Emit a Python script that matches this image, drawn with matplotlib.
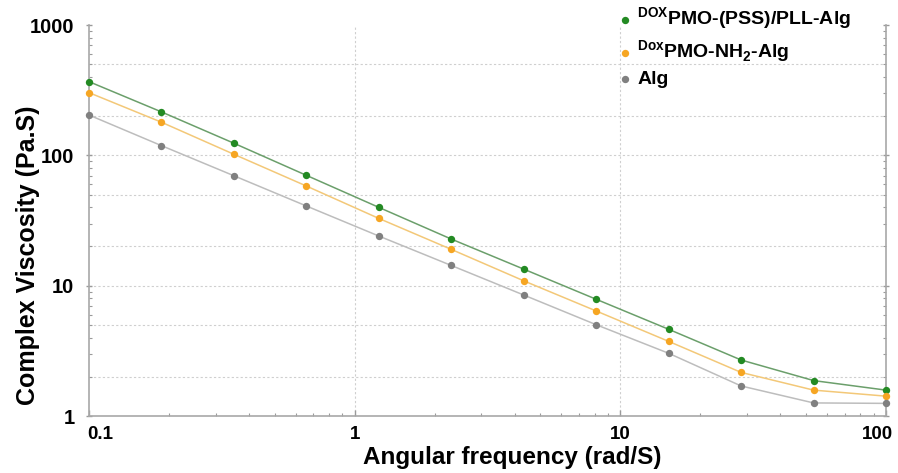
import matplotlib.pyplot as plt
import matplotlib.transforms as mtransforms
from matplotlib.ticker import LogLocator, NullFormatter

plt.rcParams["font.family"] = ["Liberation Sans", "DejaVu Sans"]
plt.rcParams["font.weight"] = "bold"
plt.rcParams["mathtext.fontset"] = "custom"
plt.rcParams["mathtext.rm"] = "Liberation Sans:bold"
plt.rcParams["mathtext.bf"] = "Liberation Sans:bold"

# angular frequency (rad/s), 12 log-spaced points
freq = [0.1, 0.187, 0.351, 0.658, 1.23, 2.31, 4.33, 8.11, 15.2, 28.5, 53.4, 100]

pss_pll = [368, 216, 124, 70.3, 40.0, 22.8, 13.4, 7.87, 4.63, 2.69, 1.87, 1.58]
nh2 = [303, 180, 102, 58.2, 32.9, 19.0, 10.9, 6.40, 3.74, 2.16, 1.58, 1.42]
alg = [204, 119, 69.8, 40.9, 24.1, 14.3, 8.48, 5.02, 3.03, 1.70, 1.26, 1.25]

labels = [
    r"$^{\mathbf{DOX}}$PMO-(PSS)/PLL-Alg",
    r"$^{\mathbf{Dox}}$PMO-NH$_{\mathbf{2}}$-Alg",
    "Alg",
]
marker_colors = ["#238a23", "#f6a623", "#808080"]
line_colors = ["#6b9f6b", "#f3c878", "#bdbdbd"]

x_ticks = [0.1, 1, 10, 100]
x_ticklabels = ["0.1", "1", "10", "100"]
y_ticks = [1, 10, 100, 1000]
y_ticklabels = ["1", "10", "100", "1000"]

fig = plt.figure(figsize=(8.98, 4.73), dpi=100)
ax = fig.add_axes([0.0991, 0.1205, 0.8875, 0.8265])
ax.set_xscale("log")
ax.set_yscale("log")

for series, label, mc, lc in zip([pss_pll, nh2, alg], labels, marker_colors, line_colors):
    ax.plot(freq, series, color=lc, linewidth=1.1, clip_on=False, zorder=3)
    ax.scatter(freq, series, s=28, color=mc, label=label, clip_on=False, zorder=4,
               linewidths=0)

ax.set_xlim(0.1, 100)
ax.set_ylim(1, 1000)

# grid: horizontal at 2, 5, 10 per decade; vertical at 1 and 10
for y in [2, 5, 10, 20, 50, 100, 200, 500]:
    ax.axhline(y, color="#cfcfcf", linewidth=0.8, linestyle=(0, (2, 2)), zorder=1)
for x in [1, 10]:
    ax.axvline(x, color="#cfcfcf", linewidth=0.8, linestyle=(0, (2, 2)), zorder=1)

ax.set_xticks(x_ticks)
ax.set_xticklabels(x_ticklabels)
ax.set_yticks(y_ticks)
ax.set_yticklabels(y_ticklabels)
ax.xaxis.set_minor_locator(LogLocator(base=10, subs=range(2, 10)))
ax.yaxis.set_minor_locator(LogLocator(base=10, subs=range(2, 10)))
ax.xaxis.set_minor_formatter(NullFormatter())
ax.yaxis.set_minor_formatter(NullFormatter())

ax.tick_params(axis="both", which="major", length=4, width=1,
               color="#9a9a9a", direction="in")
ax.tick_params(axis="x", which="major", pad=7, labelsize=13.5)
ax.tick_params(axis="y", which="major", pad=8, labelsize=14.5)
ax.tick_params(axis="both", which="minor", length=2.5, width=0.8,
               color="#9a9a9a", direction="in")
ax.tick_params(axis="y", which="both", right=True)
ax.tick_params(axis="y", which="major", right=True, direction="inout", length=5)

# end labels sit slightly inward in the original
xlabels = ax.get_xticklabels()
xlabels[0].set_transform(xlabels[0].get_transform()
                         + mtransforms.ScaledTranslation(0.11, 0, fig.dpi_scale_trans))
xlabels[-1].set_transform(xlabels[-1].get_transform()
                          + mtransforms.ScaledTranslation(-0.09, 0, fig.dpi_scale_trans))

for side in ["left", "bottom", "right"]:
    ax.spines[side].set_color("#a8a8a8")
    ax.spines[side].set_linewidth(1.2)
ax.spines["top"].set_visible(False)

ax.set_xlabel("Angular frequency (rad/S)", fontsize=17.5, fontweight="bold")
ax.set_ylabel("Complex Viscosity (Pa.S)", fontsize=18, fontweight="bold")
ax.xaxis.set_label_coords(0.531, -0.077)
ax.yaxis.set_label_coords(-0.062, 0.412)

ax.legend(loc="upper left", bbox_to_anchor=(0.639, 1.094), frameon=False,
          handlelength=1.0, handletextpad=0.1, labelspacing=0.3,
          prop={"weight": "bold", "size": 14})

fig.savefig("out.png", dpi=100)
